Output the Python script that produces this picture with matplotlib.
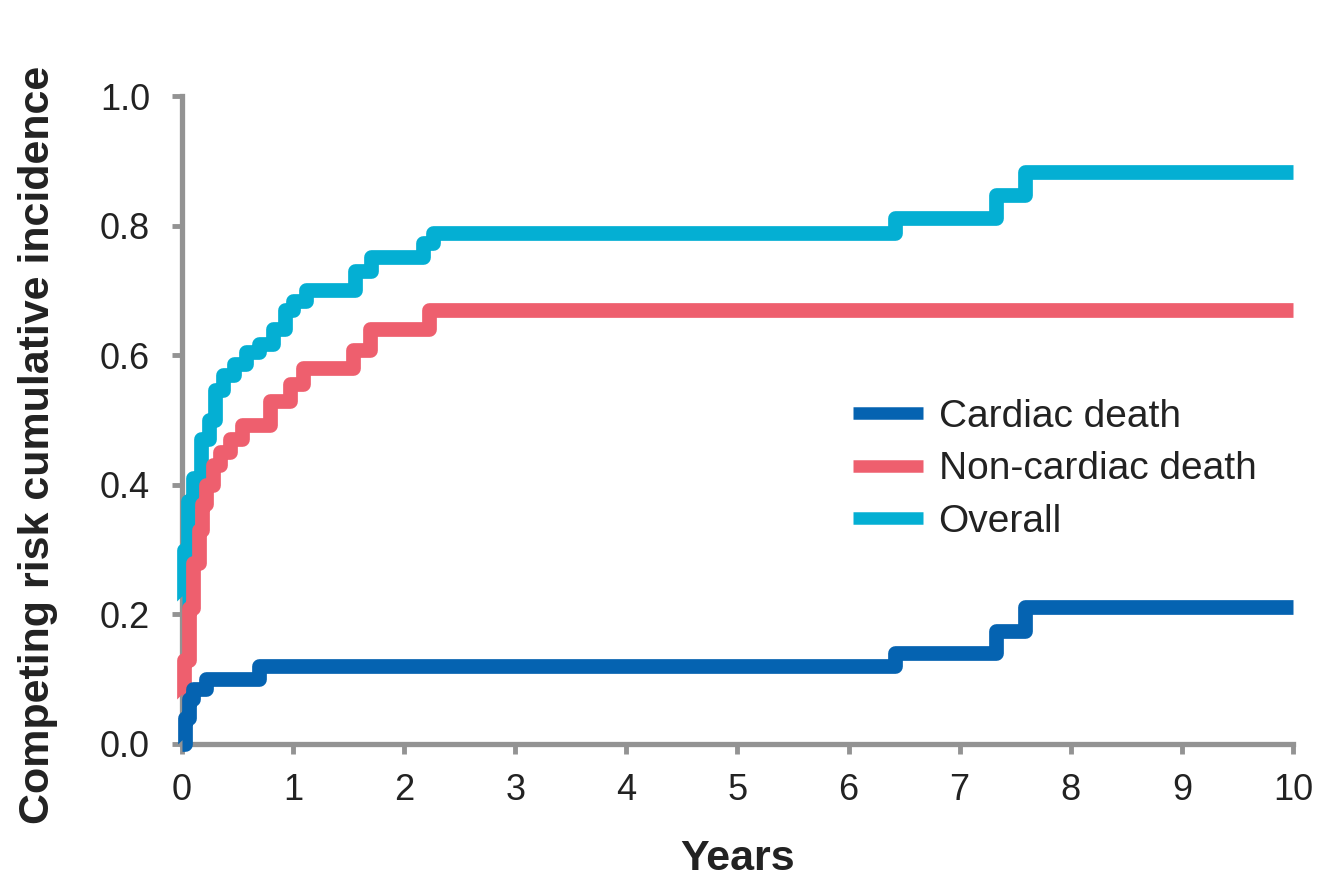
import matplotlib.pyplot as plt

plt.rcParams['font.family'] = ['Liberation Sans', 'DejaVu Sans']

# Tempos (anos) e incidencia acumulada (degraus)
t_cardiac = [0, 0.03, 0.06, 0.10, 0.22, 0.69, 6.42, 7.33, 7.59, 10]
v_cardiac = [0.0, 0.04, 0.07, 0.085, 0.10, 0.12, 0.14, 0.175, 0.212, 0.212]

t_noncardiac = [0, 0.015, 0.06, 0.10, 0.15, 0.18, 0.22, 0.28, 0.34, 0.43,
                0.54, 0.79, 0.97, 1.09, 1.54, 1.69, 2.22, 10]
v_noncardiac = [0.07, 0.13, 0.21, 0.28, 0.33, 0.37, 0.40, 0.43, 0.45, 0.47,
                0.493, 0.53, 0.555, 0.58, 0.608, 0.64, 0.67, 0.67]

t_overall = [0, 0.02, 0.05, 0.10, 0.17, 0.24, 0.30, 0.37, 0.47, 0.58, 0.69,
             0.82, 0.93, 1.0, 1.12, 1.56, 1.70, 2.17, 2.26, 6.42, 7.33, 7.59, 10]
v_overall = [0.22, 0.30, 0.375, 0.41, 0.47, 0.50, 0.546, 0.57, 0.587, 0.605,
             0.617, 0.64, 0.67, 0.684, 0.70, 0.73, 0.752, 0.773, 0.789, 0.812,
             0.847, 0.883, 0.883]

x_ticks = list(range(0, 11))
y_ticks = [0.0, 0.2, 0.4, 0.6, 0.8, 1.0]

fig = plt.figure(figsize=(13.32, 8.84), dpi=100)
ax = fig.add_axes([0.1366, 0.1584, 0.8341, 0.733])

lw = 10.6
l3, = ax.plot(t_overall, v_overall, drawstyle='steps-post', color='#04AFD3',
              lw=lw, label='Overall', clip_on=False, solid_capstyle='butt', zorder=3)
l2, = ax.plot(t_noncardiac, v_noncardiac, drawstyle='steps-post', color='#EE5F6E',
              lw=lw, label='Non-cardiac death', clip_on=False, solid_capstyle='butt', zorder=3)
l1, = ax.plot(t_cardiac, v_cardiac, drawstyle='steps-post', color='#0563B1',
              lw=lw, label='Cardiac death', clip_on=False, solid_capstyle='butt', zorder=3)

ax.set_xlim(0, 10)
ax.set_ylim(0, 1.0)
ax.set_xticks(x_ticks)
ax.set_yticks(y_ticks)
ax.set_yticklabels(['%.1f' % y for y in y_ticks])

for s in ['top', 'right']:
    ax.spines[s].set_visible(False)
for s in ['left', 'bottom']:
    ax.spines[s].set_color('#939393')
    ax.spines[s].set_linewidth(3.8)

ax.tick_params(axis='both', colors='#939393', width=3.5, length=7,
               labelsize=26, labelcolor='#222222')
ax.tick_params(axis='y', pad=16)
ax.tick_params(axis='x', pad=14)

ax.set_xlabel('Years', fontsize=31, fontweight='bold', color='#222222', labelpad=22)
ax.set_ylabel('Competing risk cumulative incidence', fontsize=31,
              fontweight='bold', color='#222222', labelpad=30)
ax.yaxis.label.set_y(0.461)

leg = ax.legend(handles=[l1, l2, l3], loc='upper left',
                bbox_to_anchor=(853 / 1332, 1 - 399 / 884),
                bbox_transform=fig.transFigure, frameon=False, fontsize=28,
                handlelength=1.8, handletextpad=0.4, labelspacing=0.42,
                borderpad=0, borderaxespad=0)
for line in leg.get_lines():
    line.set_linewidth(9)
for txt in leg.get_texts():
    txt.set_color('#222222')

plt.savefig('out.png', dpi=100)
